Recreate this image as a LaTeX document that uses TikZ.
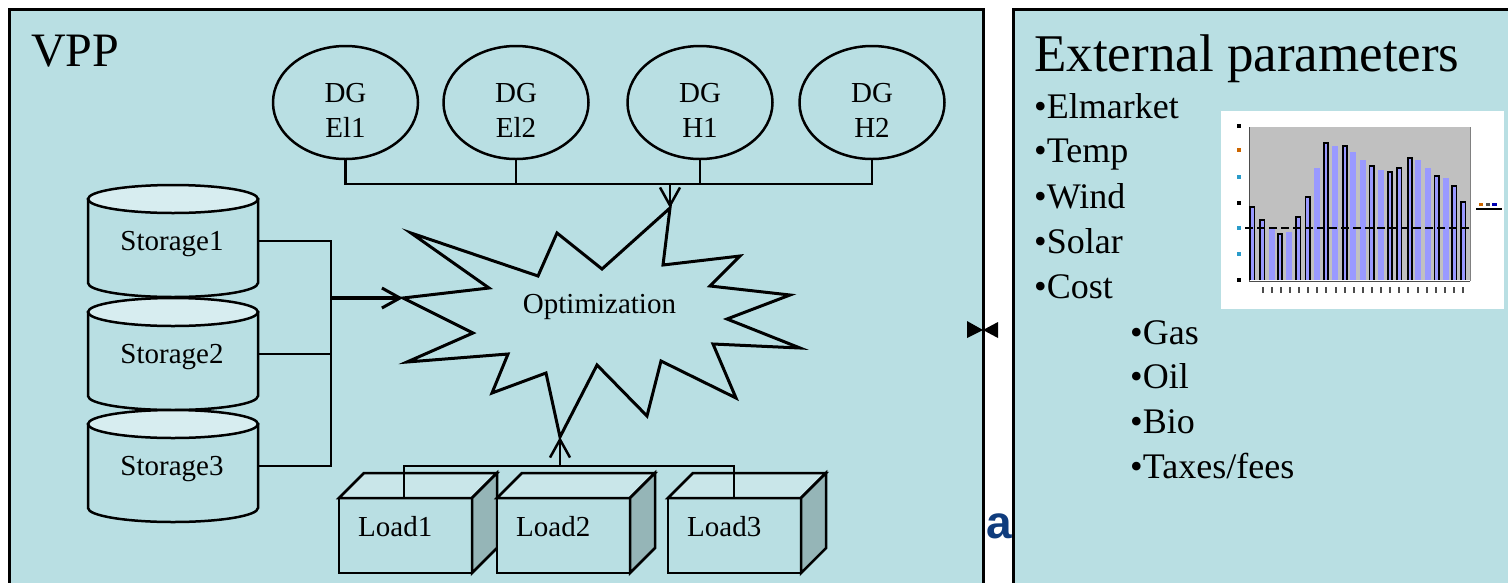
\documentclass[tikz,border=0pt]{standalone}
\usepackage{fontspec}
\setmainfont{Liberation Serif}
\newfontfamily\sansa{Liberation Sans}
\usetikzlibrary{arrows.meta,shapes.geometric}
\definecolor{bg}{HTML}{B9DFE3}
\definecolor{topc}{HTML}{D7EDF0}
\definecolor{boxtop}{HTML}{C9E6E9}
\definecolor{boxside}{HTML}{95B5B7}
\definecolor{barblue}{HTML}{9999FF}
\definecolor{plotgray}{HTML}{C0C0C0}
\definecolor{darkblue}{HTML}{0F3C7D}
\tikzset{
  frame/.style={line width=3pt, fill=bg},
  shapeline/.style={line width=2.5pt, line join=miter},
  conn/.style={line width=2.5pt, line join=miter},
  arr/.style={conn, -{Straight Barb[length=18pt,width=20pt,line width=2.5pt]}},
  lbl/.style={font=\fontsize{29}{35}\selectfont, inner sep=0pt, anchor=base},
  item/.style={font=\fontsize{36}{44}\selectfont, inner sep=0pt, anchor=base west},
  dgell/.style={ellipse, draw, line width=2.5pt, fill=bg, minimum width=145pt, minimum height=113pt, inner sep=0pt},
}
\begin{document}
\begin{tikzpicture}[x=1pt,y=-1pt]
\useasboundingbox (0,0) rectangle (1508,582);
\clip (0,0) rectangle (1508,582);
\fill[white] (0,0) rectangle (1508,582);

% stray blue letter behind the right panel
\node[font=\sansa\bfseries\fontsize{46}{46}\selectfont, text=darkblue, inner sep=0pt, anchor=base west] (stray) at (986,538) {a};

% panels
\draw[frame] (9,9) rectangle (983,620);
\draw[frame] (1013,9) rectangle (1540,620);

% VPP title
\node[font=\fontsize{48}{48}\selectfont, inner sep=0pt, anchor=base west] (vpp) at (31,66) {VPP};

% DG ellipses
\foreach \i/\cx/\tb in {1/345.5/El1,2/516/El2,3/700/H1,4/872/H2}{
  \node[dgell] (e\i) at (\cx,102.5) {};
  \node[lbl] (dg\i) at (\cx,102) {DG};
  \node[lbl] (dgb\i) at (\cx,137) {\tb};
}

% storages (cylinders)
\foreach \i/\yt in {1/199,2/312,3/424}{
  \filldraw[fill=bg, shapeline] (88,\yt) -- (88,{\yt+84}) arc[start angle=180,end angle=360,x radius=85pt,y radius=14pt] -- (258,\yt) -- cycle;
  \filldraw[fill=topc, shapeline] (173,\yt) ellipse[x radius=85pt, y radius=14pt];
  \node[lbl] (st\i) at (172,{\yt+51}) {Storage\i};
  \coordinate (s\i r) at (258,{\yt+42});
}

% loads (boxes)
\foreach \lx/\nm in {339/Load1,497/Load2,668/Load3}{
  \fill[bg] (\lx,498) rectangle ({\lx+133},573);
  \filldraw[fill=boxtop, shapeline] (\lx,498) -- ({\lx+25},473) -- ({\lx+158},473) -- ({\lx+133},498) -- cycle;
  \filldraw[fill=boxside, shapeline] ({\lx+133},498) -- ({\lx+158},473) -- ({\lx+158},548) -- ({\lx+133},573) -- cycle;
  \draw[shapeline] (\lx,498) rectangle ({\lx+133},573);
  \node[lbl, anchor=base west] (\nm) at ({\lx+19},536) {\nm};
}

% optimization star
\draw[line width=3pt, line join=miter, miter limit=20]
  (411,233) -- (538,276) -- (557,233) -- (602,269) -- (670,208) -- (663,265)
  -- (740,256) -- (710,286) -- (790,295) -- (727,319) -- (800,348) -- (713,344)
  -- (736,398) -- (661,361) -- (647,416) -- (597,365) -- (560,437) -- (546,373)
  -- (492,393) -- (508,354) -- (407,362) -- (473,333) -- (403,298) -- (489,288) -- cycle;
\coordinate (stTop) at (670,208);
\coordinate (stLeft) at (403,298);
\coordinate (stBot) at (560,437);
\node[lbl] (opt) at (599.5,313) {Optimization};

% DG bus
\coordinate (dgbus) at (670,184);
\draw[conn] (e1.south) |- (e4.south |- dgbus) -- (e4.south);
\draw[conn] (e2.south) -- (e2.south |- dgbus);
\draw[conn] (e3.south) -- (e3.south |- dgbus);
\draw[arr] (dgbus) -- (stTop);

% storage bus
\coordinate (sbus) at (331,298);
\draw[conn] (s1r) -| (sbus |- s3r) -- (s3r);
\draw[conn] (s2r) -- (s2r -| sbus);
\draw[conn, line width=4pt, -{Straight Barb[length=18pt,width=20pt,line width=3pt]}] (sbus) -- (stLeft);

% load bus
\coordinate (lbus) at (560,466);
\coordinate (l1t) at (404,498);
\coordinate (l3t) at (734,498);
\draw[conn] (l1t) |- (l3t |- lbus) -- (l3t);
\draw[arr] (lbus) -- (stBot);

% bow-tie marker
\fill (967,321) -- (983,330) -- (967,338) -- cycle;
\fill (998,322) -- (983,330) -- (998,338) -- cycle;

% right panel text
\node[font=\fontsize{53}{53}\selectfont, inner sep=0pt, anchor=base west] (ext) at (1034,71) {External parameters};
\node[item] (i1) at (1034,118) {•Elmarket};
\node[item] (i2) at (1034,162) {•Temp};
\node[item] (i3) at (1034,208) {•Wind};
\node[item] (i4) at (1034,253) {•Solar};
\node[item] (i5) at (1034,298) {•Cost};
\node[item] (j1) at (1130,344) {•Gas};
\node[item] (j2) at (1130,388) {•Oil};
\node[item] (j3) at (1130,433) {•Bio};
\node[item] (j4) at (1130,478) {•Taxes/fees};

% chart
\fill[white] (1221,111) rectangle (1504,309);
\fill[plotgray] (1249,127) rectangle (1470,280);
\draw[gray!60!black, line width=1pt] (1249,127) -- (1249,281) -- (1470,281);
\draw[gray, line width=1pt] (1470,127) -- (1470,281);
\foreach \bx/\by/\k in {1252.3/206.7/1,1262.3/220/1,1271.7/228.7/0,1280/234.3/1,1289.3/232.3/0,1298.3/216.7/1,1307.7/196.7/1,1316.7/168.3/0,1326/143.3/1,1335/145.7/0,1345/145.7/1,1353.3/151.7/0,1362.7/160/0,1371.7/165.7/1,1381/170/0,1390/171.7/1,1399.3/167.7/1,1410/157.7/1,1417.7/160/0,1427.7/167.7/0,1436.7/175.7/1,1446/178.3/0,1454.3/185.7/1,1463.3/201.7/1}{
  \fill[barblue] ({\bx-3},\by) rectangle ({\bx+3},280);
  \ifnum\k=1
    \draw[black, line width=1.8pt] ({\bx-2.2},280) -- ({\bx-2.2},\by) -- ({\bx+2.2},\by) -- ({\bx+2.2},280);
  \fi
}
\draw[line width=2pt, dash pattern=on 8pt off 4pt] (1245,228) -- (1470,228);
\foreach \ty/\tc in {126/black,150/orange,177/cyan,203/black,228/cyan,254/cyan,280/black}{
  \fill[\tc!80!black] (1237,{\ty-2}) rectangle (1241,{\ty+2});
}
\foreach \tx in {1263,1272,1281,1290,1299,1308,1317,1326,1336,1345,1354,1363,1372,1381,1390,1399,1408,1418,1427,1436,1445,1454,1463}{
  \fill[black!70] ({\tx-1},287) rectangle ({\tx+1},293);
}
\fill[orange!80!black] (1479,203) rectangle (1483,206);
\fill[black!70] (1486,203) rectangle (1490,206);
\fill[blue!70!black] (1492,203) rectangle (1497,206);
\draw[line width=1.5pt] (1476,209) -- (1502,209);
\end{tikzpicture}
\end{document}
